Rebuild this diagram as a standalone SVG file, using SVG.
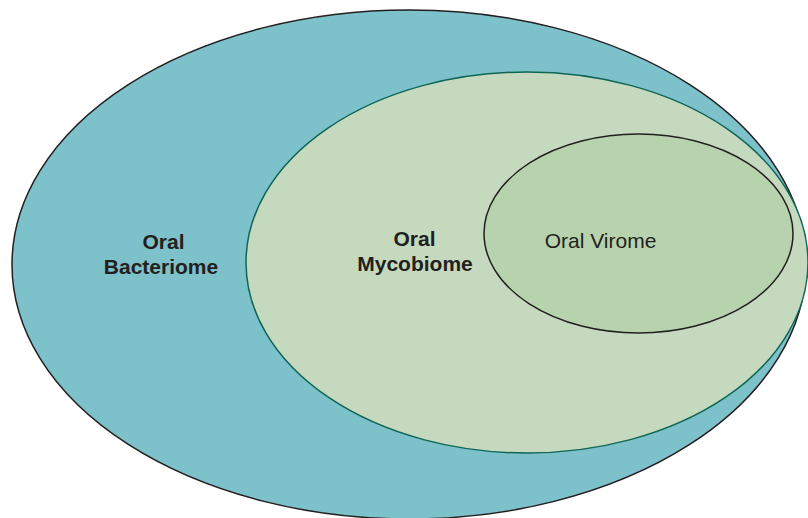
<svg xmlns="http://www.w3.org/2000/svg" width="808" height="518" viewBox="0 0 808 518">
<style>
.lbl{font-family:"Liberation Sans",Arial,sans-serif;font-size:21px;fill:#231f20;text-anchor:middle}
.b{font-weight:bold}
</style>
<rect width="808" height="518" fill="#ffffff"/>
<g id="bacteriome">
<ellipse cx="409" cy="264.5" rx="397" ry="254.5" fill="#7dc1ca" stroke="#231f20" stroke-width="1.5"/>
<text class="lbl b" x="163.5" y="249">Oral</text>
<text class="lbl b" x="161" y="273.5">Bacteriome</text>
</g>
<g id="mycobiome">
<ellipse cx="527" cy="262.5" rx="281" ry="190.5" fill="#c5d9bf" stroke="#0e6655" stroke-width="1.5"/>
<text class="lbl b" x="414.5" y="246">Oral</text>
<text class="lbl b" x="415" y="271">Mycobiome</text>
</g>
<g id="virome">
<ellipse cx="638.5" cy="233.5" rx="154.5" ry="99.5" fill="#b7d3ae" stroke="#231f20" stroke-width="1.5"/>
<text class="lbl" x="600.5" y="248">Oral Virome</text>
</g>
<g id="connectors"/>
</svg>
